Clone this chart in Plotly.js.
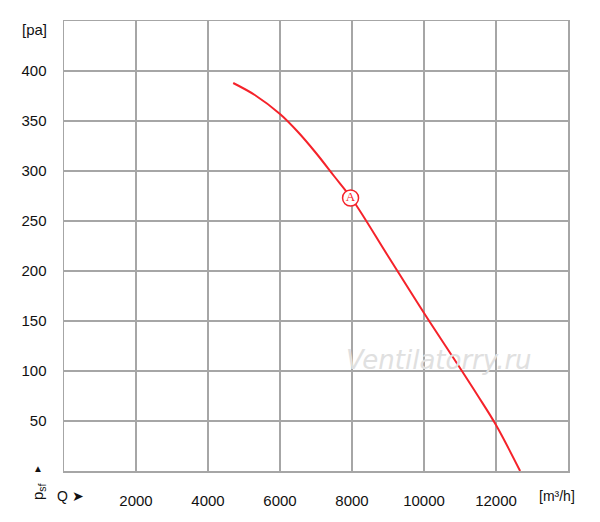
<!DOCTYPE html>
<html>
<head>
<meta charset="utf-8">
<script src="https://cdn.plot.ly/plotly-3.0.1.min.js"></script>
<style>html,body{margin:0;padding:0;background:#fff;}#chart{width:600px;height:522px;}</style>
</head>
<body>
<div id="chart"></div>
<script>
// Data
var flowQ = [4700, 5300, 6000, 6500, 7000, 7500, 8000, 9000, 10000, 11000, 11500, 12000, 12670];
var pressurePsf = [388, 376, 357, 339, 318, 295, 272, 215, 158, 103, 75, 46, 0];
var pointA = {x: [7960], y: [273], label: ['A']};
var xTickVals = [0, 2000, 4000, 6000, 8000, 10000, 12000, 14000];
var xTickText = ['', '2000', '4000', '6000', '8000', '10000', '12000', ''];
var yTickVals = [0, 50, 100, 150, 200, 250, 300, 350, 400, 450];
var yTickText = ['', '50', '100', '150', '200', '250', '300', '350', '400', ''];

var red = '#f5222a';
var gridC = '#a6a6a6';
var txtC = '#111111';
var fontF = 'Liberation Sans, Arial, sans-serif';

var traces = [
  {x: flowQ, y: pressurePsf, type: 'scatter', mode: 'lines',
   line: {color: red, width: 2, shape: 'spline', smoothing: 1}, hoverinfo: 'skip'},
  {x: pointA.x, y: pointA.y, type: 'scatter', mode: 'markers+text',
   text: pointA.label, textposition: 'middle center',
   textfont: {family: 'Liberation Serif, DejaVu Serif, serif', size: 13, color: red},
   marker: {symbol: 'circle', size: 16, color: '#ffffff', line: {color: red, width: 1.5}},
   hoverinfo: 'skip'}
];

var layout = {
  width: 600, height: 522,
  margin: {l: 64, r: 32, t: 21, b: 51},
  paper_bgcolor: '#ffffff', plot_bgcolor: '#ffffff',
  showlegend: false,
  font: {family: fontF, size: 15, color: txtC},
  xaxis: {range: [0, 14000], tickvals: xTickVals, ticktext: xTickText,
          showgrid: true, gridcolor: gridC, gridwidth: 1.5, zeroline: false,
          showline: true, linecolor: gridC, linewidth: 1.5, mirror: true,
          ticks: '', ticklabelstandoff: 15, tickfont: {size: 15, color: txtC}, fixedrange: true},
  yaxis: {range: [0, 450], tickvals: yTickVals, ticktext: yTickText,
          showgrid: true, gridcolor: gridC, gridwidth: 1.5, zeroline: false,
          showline: true, linecolor: gridC, linewidth: 1.5, mirror: true,
          ticks: '', ticklabelstandoff: 13, tickfont: {size: 15, color: txtC}, fixedrange: true},
  annotations: [
    {text: '[pa]', xref: 'paper', yref: 'paper', x: -15/504, y: 1 - 8/450, xanchor: 'right', yanchor: 'middle', showarrow: false, font: {size: 15, color: txtC}},
    {text: '[m³/h]', xref: 'paper', yref: 'paper', x: (557-64)/504, y: -25/450, xanchor: 'center', yanchor: 'middle', showarrow: false, font: {size: 14, color: txtC}},
    {text: 'Q ➤', xref: 'paper', yref: 'paper', x: (70-64)/504, y: -25/450, xanchor: 'center', yanchor: 'middle', showarrow: false, font: {size: 14, color: txtC}},
    {text: 'p<sub>sf</sub>', xref: 'paper', yref: 'paper', x: (38-64)/504, y: -21/450, xanchor: 'center', yanchor: 'middle', textangle: -90, showarrow: false, font: {size: 15, color: txtC}},
    {text: '▲', xref: 'paper', yref: 'paper', x: (38-64)/504, y: 3/450, xanchor: 'center', yanchor: 'middle', showarrow: false, font: {size: 10, color: txtC}},
    {text: '<i>Ventilatorry.ru</i>', xref: 'paper', yref: 'paper', x: (439-64)/504, y: (471-360)/450, xanchor: 'center', yanchor: 'middle', showarrow: false, font: {family: 'DejaVu Sans, sans-serif', size: 26, color: '#e0e0e0'}}
  ]
};

Plotly.newPlot('chart', traces, layout, {displayModeBar: false, staticPlot: true});
</script>
</body>
</html>
